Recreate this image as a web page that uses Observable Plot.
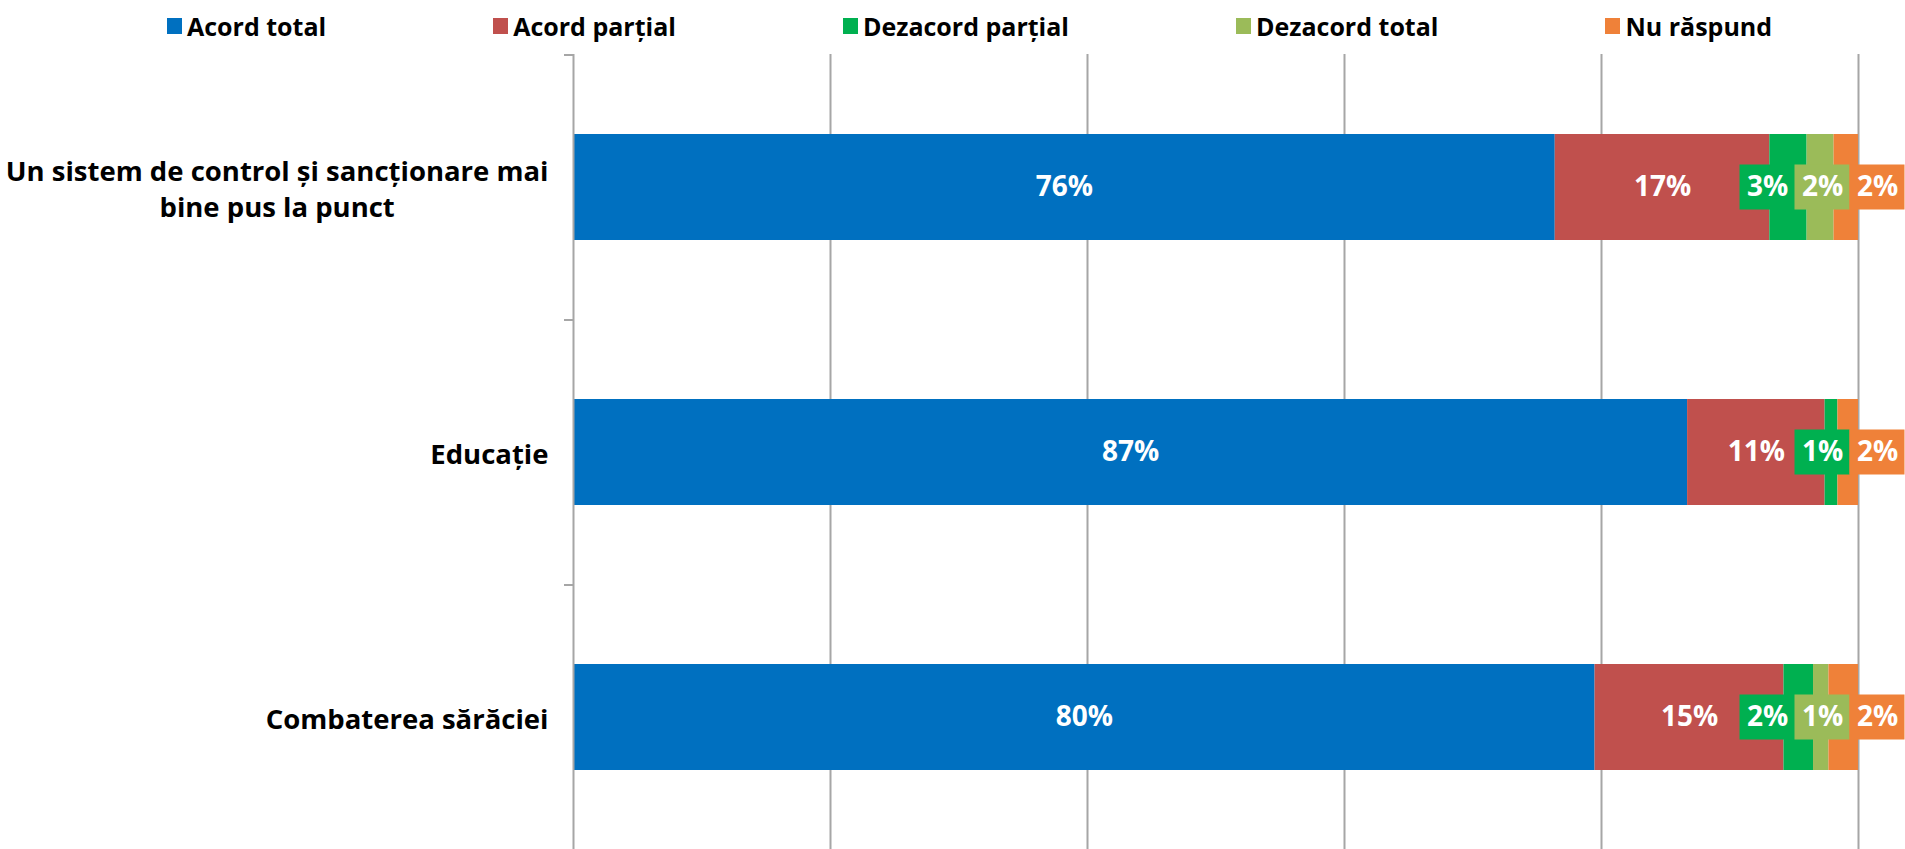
<!DOCTYPE html>
<html>
<head>
<meta charset="utf-8">
<script src="https://cdn.jsdelivr.net/npm/d3@7"></script>
<script src="https://cdn.jsdelivr.net/npm/@observablehq/plot@0.6"></script>
<style>
  body { margin: 0; background: #fff; font-family: "Open Sans", sans-serif; }
  #legend { position: relative; height: 54px; display: flex; align-items: flex-start; padding-left: 167px; box-sizing: border-box; padding-top: 8px; gap: 167px; }
  .item { display: flex; align-items: center; line-height: 36px; font-size: 25px; font-weight: bold; color: #000; white-space: nowrap; }
  .sw { width: 15px; height: 16px; margin-right: 5px; display: inline-block; }
  #chart svg { display: block; }
</style>
</head>
<body>
<div id="legend"></div>
<div id="chart"></div>
<script>
// ---- data ----
const categories = ["Un sistem de control și sancționare mai\nbine pus la punct", "Educație", "Combaterea sărăciei"];
const series = ["Acord total", "Acord parțial", "Dezacord parțial", "Dezacord total", "Nu răspund"];
const colors = ["#0070C0", "#C0504D", "#00B050", "#9BBB59", "#EF8139"];
const acordTotal = [76.4, 86.7, 79.5];
const acordPartial = [16.7, 10.7, 14.7];
const dezacordPartial = [2.9, 1.0, 2.3];
const dezacordTotal = [2.1, 0, 1.2];
const nuRaspund = [1.9, 1.6, 2.3];
const xTicks = [0, 20, 40, 60, 80, 100];

const valuesBySeries = [acordTotal, acordPartial, dezacordPartial, dezacordTotal, nuRaspund];

// ---- layout ----
const width = 1905, height = 795;
const marginLeft = 573, marginRight = 47;
const ppu = (width - marginLeft - marginRight) / 100; // px per percent
const step = height / categories.length;
const font = "'Open Sans', sans-serif";
const catFontSize = 27.5;

// stacked rows
const rows = [];
categories.forEach((c, i) => {
  let cum = 0;
  series.forEach((s, j) => {
    const v = valuesBySeries[j][i];
    rows.push({category: c, series: s, color: colors[j], value: v, x1: cum, x2: cum + v});
    cum += v;
  });
});

// labels: large ones centered in segment, small ones in boxed cascade right of the bar end
const bigLabels = rows.filter(d => d.value >= 5).map(d => ({...d, xc: (d.x1 + d.x2) / 2}));
const smallLabels = [];
categories.forEach(c => {
  const sm = rows.filter(d => d.category === c && d.value > 0 && d.value < 5);
  const n = sm.length;
  sm.forEach((d, k) => {
    const center = 100 + (19 - (n - 1 - k) * 55) / ppu;
    smallLabels.push({...d, xc: center, b1: center - 27.5 / ppu, b2: center + 27.5 / ppu});
  });
});

// category label positioning (right-aligned block, lines centered)
const ctx = document.createElement("canvas").getContext("2d");
ctx.font = `bold ${catFontSize}px 'Open Sans'`;
const catLabels = categories.map(c => {
  const w = d3.max(c.split("\n"), l => ctx.measureText(l).width);
  return {category: c, x: -(25 + w / 2) / ppu};
});

// legend
const legend = document.getElementById("legend");
series.forEach((s, j) => {
  const it = document.createElement("div");
  it.className = "item";
  it.innerHTML = `<span class="sw" style="background:${colors[j]}"></span>${s}`;
  legend.appendChild(it);
});

const grey = "#A6A6A6";
const chart = Plot.plot({
  width, height,
  marginLeft, marginRight, marginTop: 0, marginBottom: 0,
  style: {fontFamily: font, background: "#fff", overflow: "visible"},
  x: {domain: [0, 100], axis: null},
  y: {domain: categories, axis: null, paddingInner: 0.6, paddingOuter: 0.3},
  marks: [
    Plot.ruleX(xTicks.filter(t => t > 0), {stroke: grey, strokeWidth: 2}),
    Plot.barX(rows.filter(d => d.value > 0), {x1: "x1", x2: "x2", y: "category", fill: "color"}),
    Plot.ruleX([0], {stroke: grey, strokeWidth: 2}),
    Plot.ruleY(categories, {y: d => d, x1: -9 / ppu, x2: 0, dy: -step / 2, stroke: grey, strokeWidth: 2}),
    Plot.ruleY(categories.slice(-1), {y: d => d, x1: -9 / ppu, x2: 0, dy: step / 2, stroke: grey, strokeWidth: 2}),
    Plot.text(catLabels, {x: "x", y: "category", text: "category", textAnchor: "middle", lineHeight: 1.33,
      fontSize: catFontSize, fontWeight: "bold", fill: "#000"}),
    Plot.text(bigLabels, {x: "xc", y: "category", text: d => Math.round(d.value) + "%", fill: "#fff",
      fontSize: 28, fontWeight: "bold"}),
    Plot.barX(smallLabels, {x1: "b1", x2: "b2", y: "category", fill: "color", insetTop: 30.5, insetBottom: 30.5}),
    Plot.text(smallLabels, {x: "xc", y: "category", text: d => Math.round(d.value) + "%", fill: "#fff",
      fontSize: 28, fontWeight: "bold"})
  ]
});
document.getElementById("chart").appendChild(chart);
</script>
</body>
</html>
